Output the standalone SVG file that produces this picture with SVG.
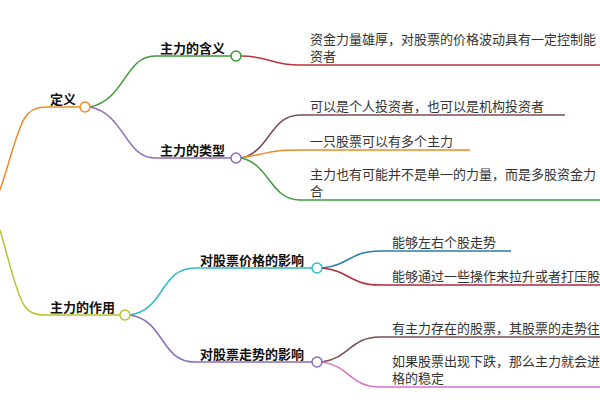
<svg xmlns="http://www.w3.org/2000/svg" width="600" height="400" viewBox="0 0 600 400">
<style>
text{font-family:"Liberation Sans","Noto Sans CJK SC",sans-serif;font-size:13px;fill:#333}
.b{font-weight:bold;fill:#111}
path{fill:none;stroke-width:1.5}
circle{fill:#fff;stroke-width:1.5}
</style>
<rect width="600" height="400" fill="#fff"/>
<g id="connectors">
<path d="M0,190 C20,130 20,107 45,107 L80,107" stroke="#f08a24"/>
<path d="M0,230 C20,300 20,315 45,315 L120,315" stroke="#b9c22c"/>
<path d="M90,107 C125,100 125,56 155,56 L231,56" stroke="#3a9a3a"/>
<path d="M90,107 C125,114 125,158 155,158 L231,158" stroke="#8b6bb8"/>
<path d="M241,56 C270,56 270,65 300,65 L600,65" stroke="#c0303a"/>
<path d="M241,158 C270,152 270,115 300,115 L565,115" stroke="#7a4e52"/>
<path d="M241,158 C270,153 270,150 300,150 L470,150" stroke="#f08a24"/>
<path d="M241,158 C270,164 270,200 300,200 L600,200" stroke="#3a9a3a"/>
<path d="M130,315 C165,310 160,268 195,268 L312,268" stroke="#2bbcc8"/>
<path d="M130,315 C165,320 160,362 195,362 L312,362" stroke="#8b6bb8"/>
<path d="M322,268 C350,265 350,251 380,251 L511,251" stroke="#2a7fa8"/>
<path d="M322,268 C350,271 350,285 380,285 L600,285" stroke="#b02a3a"/>
<path d="M322,362 C350,358 350,337 380,337 L600,337" stroke="#7a4e52"/>
<path d="M322,362 C350,366 350,387 380,387 L600,387" stroke="#d673c8"/>
</g>
<g id="n-def"><text class="b" x="50" y="104">定义</text><circle cx="85" cy="107" r="5" stroke="#f08a24"/></g>
<g id="n-role"><text class="b" x="50" y="312">主力的作用</text><circle cx="125" cy="315" r="5" stroke="#b9c22c"/></g>
<g id="n-meaning"><text class="b" x="160" y="53">主力的含义</text><circle cx="236" cy="56" r="5" stroke="#3a9a3a"/></g>
<g id="n-type"><text class="b" x="160" y="155">主力的类型</text><circle cx="236" cy="158" r="5" stroke="#8b6bb8"/></g>
<g id="n-price"><text class="b" x="200" y="265">对股票价格的影响</text><circle cx="317" cy="268" r="5" stroke="#2bbcc8"/></g>
<g id="n-trend"><text class="b" x="200" y="359">对股票走势的影响</text><circle cx="317" cy="362" r="5" stroke="#8b6bb8"/></g>
<g id="l1"><text x="310" y="44">资金力量雄厚，对股票的价格波动具有一定控制能</text><text x="310" y="61">资者</text></g>
<g id="l2"><text x="310" y="111">可以是个人投资者，也可以是机构投资者</text></g>
<g id="l3"><text x="310" y="146">一只股票可以有多个主力</text></g>
<g id="l4"><text x="310" y="179">主力也有可能并不是单一的力量，而是多股资金力</text><text x="310" y="196">合</text></g>
<g id="l5"><text x="392" y="247">能够左右个股走势</text></g>
<g id="l6"><text x="392" y="281">能够通过一些操作来拉升或者打压股</text></g>
<g id="l7"><text x="392" y="333">有主力存在的股票，其股票的走势往</text></g>
<g id="l8"><text x="392" y="366">如果股票出现下跌，那么主力就会进</text><text x="392" y="383">格的稳定</text></g>
</svg>
